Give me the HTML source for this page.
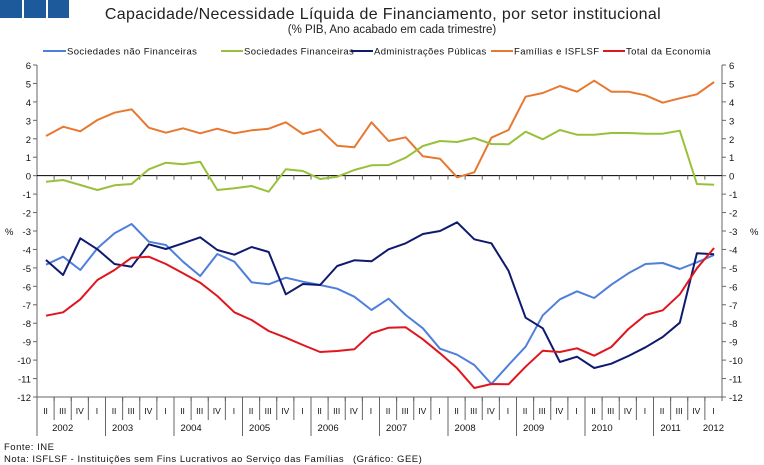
<!DOCTYPE html>
<html><head><meta charset="utf-8"><style>
html,body{margin:0;padding:0;background:#fff;width:764px;height:465px;overflow:hidden}
svg{display:block;font-family:"Liberation Sans",Arial,sans-serif}
</style></head><body>
<svg id="s" width="764" height="465" viewBox="0 0 764 465" xmlns="http://www.w3.org/2000/svg">
<rect x="0" y="0" width="22" height="18" fill="#1c5a9c"/>
<rect x="24" y="0" width="22" height="18" fill="#1c5a9c"/>
<rect x="48" y="0" width="21" height="18" fill="#1c5a9c"/>
<text x="383" y="19" font-size="16" letter-spacing="0.35" text-anchor="middle" fill="#222">Capacidade/Necessidade Líquida de Financiamento, por setor institucional</text>
<text x="392" y="33" font-size="11.5" text-anchor="middle" fill="#222">(% PIB, Ano acabado em cada trimestre)</text>
<g font-size="9.5" fill="#111" letter-spacing="0.4">
<line x1="43" y1="51" x2="66" y2="51" stroke="#4f7fdc" stroke-width="2"/><text x="67" y="54.5">Sociedades não Financeiras</text>
<line x1="221" y1="51" x2="243" y2="51" stroke="#99c03a" stroke-width="2"/><text x="244" y="54.5">Sociedades Financeiras</text>
<line x1="351" y1="51" x2="373" y2="51" stroke="#0f1a6e" stroke-width="2"/><text x="374" y="54.5">Administrações Públicas</text>
<line x1="491" y1="51" x2="513" y2="51" stroke="#e87830" stroke-width="2"/><text x="514" y="54.5">Famílias e ISFLSF</text>
<line x1="603" y1="51" x2="625" y2="51" stroke="#e0161e" stroke-width="2"/><text x="626" y="54.5">Total da Economia</text>
</g>
<g id="ax" stroke="#666" stroke-width="1" fill="none"></g>
<g id="lb" font-size="9.5" fill="#111"></g>
<g id="ln" fill="none" stroke-width="2" stroke-linejoin="round"></g>
<text x="4" y="450" font-size="9.5" fill="#111" letter-spacing="0.5">Fonte: INE</text>
<text x="4" y="462" font-size="9.5" fill="#111" letter-spacing="0.5">Nota: ISFLSF - Instituições sem Fins Lucrativos ao Serviço das Famílias</text>
<text x="353" y="462" font-size="9.5" fill="#111" letter-spacing="0.5">(Gráfico: GEE)</text>
</svg>
<script>
var NS="http://www.w3.org/2000/svg";
function el(p,t,a,txt){var e=document.createElementNS(NS,t);for(var k in a)e.setAttribute(k,a[k]);if(txt!=null)e.textContent=txt;document.getElementById(p).appendChild(e);return e;}
var L=37,R=722,T=65,B=397,u=(B-T)/18;
function Y(v){return T+(6-v)*u;}
el("ax","line",{x1:L,y1:T,x2:L,y2:436});
el("ax","line",{x1:R,y1:T,x2:R,y2:B+4});
for(var v=6;v>=-12;v--){var y=Y(v);
 el("ax","line",{x1:L-4,y1:y,x2:L,y2:y});
 el("ax","line",{x1:R,y1:y,x2:R+4,y2:y});
 el("lb","text",{x:31,y:y+4,"text-anchor":"end"},String(v));
 el("lb","text",{x:729,y:y+4},String(v));}
el("lb","text",{x:5,y:235},"%");el("lb","text",{x:750,y:235},"%");
var qw=(R-L)/40;
el("ax","line",{x1:L,y1:Y(0),x2:R,y2:Y(0),stroke:"#000"});
el("ax","line",{x1:L,y1:B,x2:R,y2:B});
var qn=["I","II","III","IV"];
for(var i=0;i<40;i++){var x0=L+i*qw;
 if(i>0){var q=(i+1)%4; var yr=(q==1);
  el("ax","line",{x1:x0,y1:B,x2:x0,y2:yr?436:420});
  el("ax","line",{x1:x0,y1:Y(0),x2:x0,y2:Y(0)+4});
  el("ax","line",{x1:x0,y1:B,x2:x0,y2:B+4});}
 el("lb","text",{x:x0+qw/2,y:414,"text-anchor":"middle","font-size":"8.5"},qn[(i+1)%4]);}
var years=[[0,3,2002]];
for(var k=0;k<10;k++){var s=3+4*k,e=Math.min(s+4,40);years.push([s,e,2003+k]);}
years.forEach(function(a){el("lb","text",{x:L+(a[0]+a[1])/2*qw,y:431,"text-anchor":"middle"},String(a[2]));});
var xs=function(i){return 46+17.13*i;};
var D={
"#e87830":[228,200,214,180,158,148,203,218,205,220,206,220,211,206,187,222,208,257,262,187,243,232,289,296,352,337,233,210,110,99,78,95,62,95,95,106,128,115,103,66],
"#99c03a":[365,360,375,390,376,372,328,308,313,305,390,385,378,395,328,333,357,350,330,316,315,293,258,243,246,234,252,253,215,238,210,224,224,219,219,221,221,212,372,374],
"#4f7fdc":[614,590,630,565,520,492,545,555,605,648,582,605,667,673,653,665,675,686,710,750,716,765,805,866,884,915,972,915,860,766,718,694,714,674,640,612,609,627,607,585],
"#0f1a6e":[600,645,535,568,612,620,553,567,550,532,570,584,561,576,703,672,675,618,601,604,568,550,522,513,487,538,550,632,773,805,906,890,924,911,888,862,831,788,580,583],
"#e0161e":[767,757,718,660,630,593,590,612,640,668,708,757,780,813,833,855,876,873,868,820,803,802,838,880,925,984,972,973,920,872,876,865,887,861,807,765,751,703,625,564]};
for(var c in D){var pts=D[c].map(function(v,i){return xs(i).toFixed(1)+","+(60+v/3).toFixed(1);}).join(" ");
 el("ln","polyline",{points:pts,stroke:c});}
</script>
</body></html>
